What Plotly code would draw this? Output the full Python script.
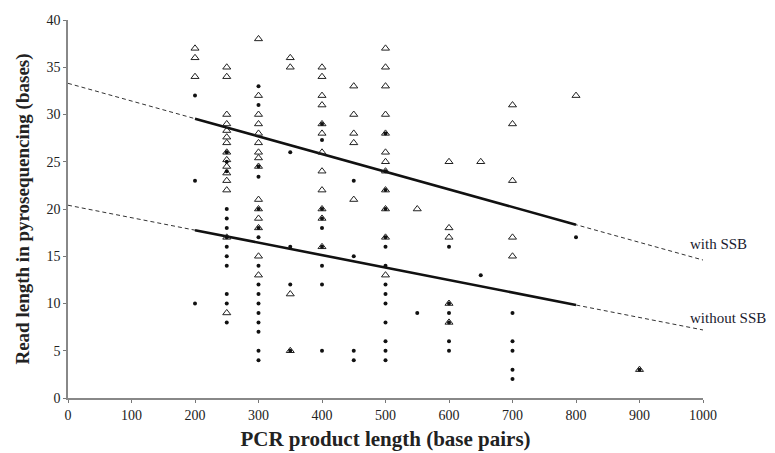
import plotly.graph_objects as go

# With SSB (open triangles): x = PCR product length, y = read length
ssb_x = [200]*3 + [250]*15 + [300]*15 + [350]*4 + [400]*12 + [450]*5 + [500]*12 + [550] + [600]*5 + [650] + [700]*5 + [800] + [900]
ssb_y = [37, 36, 34,
         35, 34, 30, 29, 28.3, 27.6, 27, 26, 25.2, 24.5, 23.8, 23, 22, 17, 9,
         38, 32, 30, 29, 28, 27, 26, 25.4, 24.5, 21, 20, 19, 18, 15, 13,
         36, 35, 11, 5,
         35, 34, 32, 31, 29, 28, 26, 24, 22, 20, 19, 16,
         33, 30, 28, 27, 21,
         37, 35, 33, 30, 28, 26, 25, 24, 22, 20, 17, 13,
         20,
         25, 18, 17, 10, 8,
         25,
         31, 29, 23, 17, 15,
         32,
         3]

# Without SSB (filled dots)
no_x = [200]*3 + [250]*13 + [300]*16 + [350]*4 + [400]*9 + [450]*4 + [500]*14 + [550] + [600]*6 + [650] + [700]*5 + [800] + [900]
no_y = [32, 23, 10,
        26, 25, 24, 20, 19, 18, 17, 16, 15, 14, 11, 10, 8,
        33, 31, 24.5, 23.4, 20, 18, 17, 14, 12, 11, 10, 9, 8, 7, 5, 4,
        26, 16, 12, 5,
        29, 27.3, 20, 19, 18, 16, 14, 12, 5,
        23, 15, 5, 4,
        28, 24, 22, 20, 17, 16, 14, 12, 11, 10, 8, 6, 5, 4,
        9,
        16, 10, 9, 8, 6, 5,
        13,
        9, 6, 5, 3, 2,
        17,
        3]

# Regression lines (intercept, slope)
ssb_fit = (33.3, -0.0187)
no_fit = (20.4, -0.0132)
fit_solid_x = [200, 800]
fit_full_x = [0, 1000]

x_ticks = [0, 100, 200, 300, 400, 500, 600, 700, 800, 900, 1000]
y_ticks = [0, 5, 10, 15, 20, 25, 30, 35, 40]

serif = "Liberation Serif, Times New Roman, serif"

def line_y(fit, xs):
    return [fit[0] + fit[1] * x for x in xs]

fig = go.Figure()
for fit in (ssb_fit, no_fit):
    fig.add_trace(go.Scatter(x=fit_full_x, y=line_y(fit, fit_full_x), mode="lines",
                             line=dict(color="#333", width=1, dash="4px,3px"),
                             showlegend=False, hoverinfo="skip"))
    fig.add_trace(go.Scatter(x=fit_solid_x, y=line_y(fit, fit_solid_x), mode="lines",
                             line=dict(color="#111", width=2.6),
                             showlegend=False, hoverinfo="skip"))

fig.add_trace(go.Scatter(x=ssb_x, y=ssb_y, mode="markers", name="with SSB",
                         marker=dict(symbol="triangle-up-open", size=7, color="#222",
                                     line=dict(width=1, color="#222")),
                         showlegend=False, cliponaxis=False))
fig.add_trace(go.Scatter(x=no_x, y=no_y, mode="markers", name="without SSB",
                         marker=dict(symbol="circle", size=4, color="#111"),
                         showlegend=False, cliponaxis=False))

fig.add_annotation(x=977, y=16.3, text="with SSB", showarrow=False, xanchor="left",
                   yanchor="middle", font=dict(family=serif, size=15, color="#1a1a2e"))
fig.add_annotation(x=977, y=8.5, text="without SSB", showarrow=False, xanchor="left",
                   yanchor="middle", font=dict(family=serif, size=15, color="#1a1a2e"))

fig.update_layout(
    width=775, height=453,
    margin=dict(l=60, r=80, t=12, b=63, autoexpand=False),
    paper_bgcolor="white", plot_bgcolor="white",
    font=dict(family=serif, color="#222"),
)
fig.update_xaxes(range=[0, 1000], tickvals=x_ticks, ticks="outside", ticklen=3,
                 tickcolor="#777", showline=True, linecolor="#888", linewidth=1.5,
                 showgrid=False, zeroline=False, automargin=False,
                 tickfont=dict(family=serif, size=14, color="#222"),
                 title=dict(text="<b>PCR product length (base pairs)</b>",
                            font=dict(family=serif, size=21, color="#222"), standoff=10))
fig.update_yaxes(range=[0, 40], tickvals=y_ticks, ticks="outside", ticklen=3,
                 tickcolor="#777", showline=True, linecolor="#888", linewidth=1.5,
                 showgrid=False, zeroline=False, automargin=False,
                 tickfont=dict(family=serif, size=14, color="#222"),
                 title=dict(text="<b>Read length in pyrosequencing (bases)</b>",
                            font=dict(family=serif, size=19, color="#222"), standoff=12))

fig.write_html("out.html")
